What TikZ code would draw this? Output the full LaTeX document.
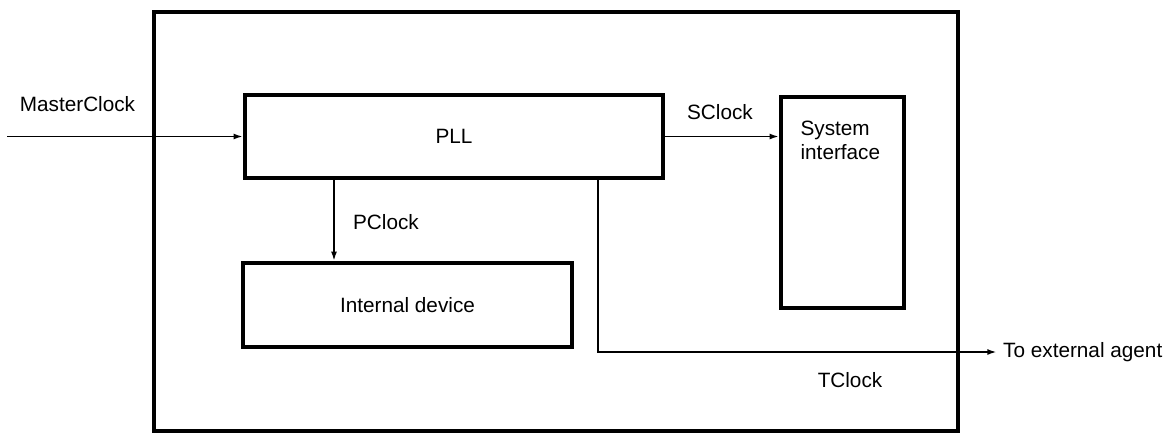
\documentclass[tikz,border=0pt]{standalone}
\usepackage{fontspec}
\setmainfont{Liberation Sans}
\usetikzlibrary{arrows.meta, positioning, calc}

\tikzset{
    blockbox/.style={draw, line width=2pt, inner sep=0pt},
    clkline/.style={line width=1.1pt, -{Latex[length=5.5pt, width=3.4pt]}},
    lbl/.style={font=\fontsize{11.8}{14}\selectfont},
}

\begin{document}
\begin{tikzpicture}
    \useasboundingbox (0, 0) rectangle (23.5, 8.68);

    % chip outline and blocks
    \node[blockbox, minimum width=16.08cm, minimum height=8.38cm] (chip) at (11.12, 4.25) {};
    \node[blockbox, lbl, minimum width=8.36cm, minimum height=1.66cm] (pll) at (9.08, 5.95) {PLL};
    \node[blockbox, minimum width=2.46cm, minimum height=4.22cm] (sysif) at (16.85, 4.63) {};
    \node[lbl, align=left, anchor=north west, inner sep=0pt] (systxt) at ([xshift=0.42cm, yshift=-0.5cm]sysif.north west) {System\\interface};
    \node[blockbox, lbl, minimum width=6.58cm, minimum height=1.68cm] (intdev) at (8.15, 2.58) {Internal device};

    % clock lines
    \coordinate (mclk) at (0.14, 5.95);
    \draw[clkline] (mclk) -- (pll.west);
    \node[lbl] (mclklbl) at (1.55, 6.6) {MasterClock};

    \draw[clkline] (pll.east) -- (pll.east -| sysif.west);
    \node[lbl] (sclklbl) at (14.4, 6.44) {SClock};

    \draw[clkline] ([xshift=-1.47cm]intdev.north |- pll.south) -- ([xshift=-1.47cm]intdev.north);
    \node[lbl] (pclklbl) at (7.72, 4.24) {PClock};

    \node[lbl, anchor=west] (ext) at (19.94, 1.64) {To external agent};
    \draw[clkline] ([xshift=2.88cm]pll.south) |- (ext.west);
    \node[lbl] (tclklbl) at (17.0, 1.08) {TClock};
\end{tikzpicture}
\end{document}
